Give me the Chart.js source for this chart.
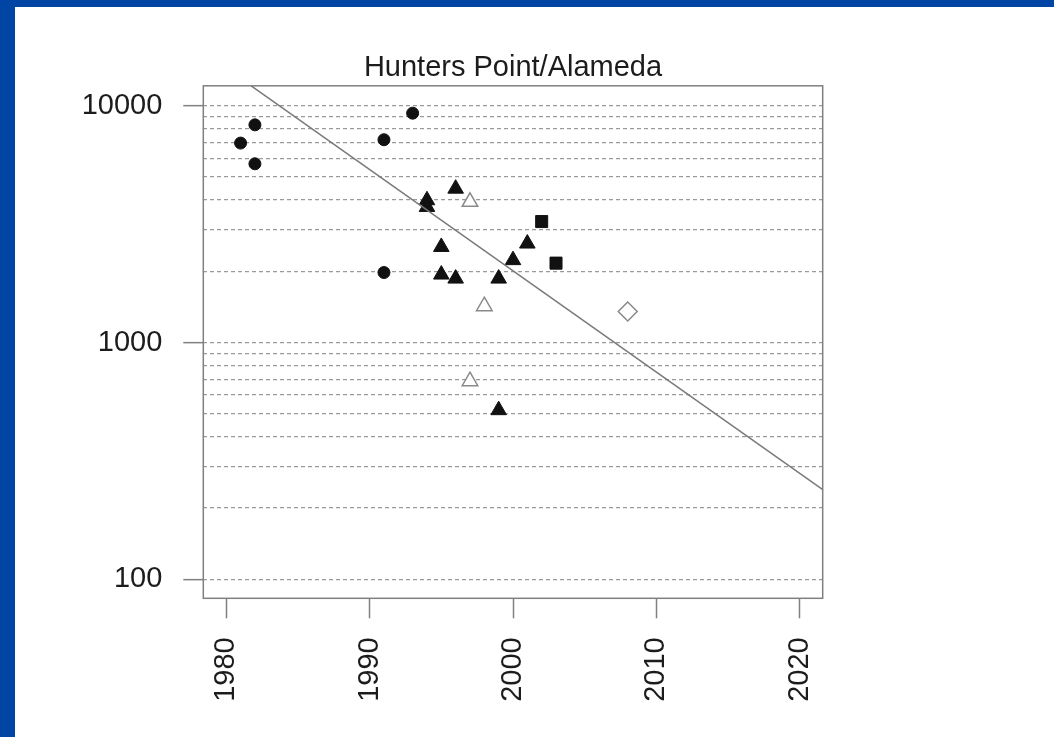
<!DOCTYPE html>
<html>
<head>
<meta charset="utf-8">
<title>Hunters Point/Alameda</title>
<script src="https://cdn.jsdelivr.net/npm/chart.js@4.4.1/dist/chart.umd.min.js"></script>
<style>
  body { margin: 0; background: #fff; }
  #frame {
    position: absolute; left: 0; top: 0;
    width: 1054px; height: 737px;
    box-sizing: border-box;
    border-top: 7px solid #0044a4;
    border-left: 15px solid #0044a4;
    background: #fff;
  }
  canvas { display: block; }
</style>
</head>
<body>
<div id="frame">
  <canvas id="chart" width="1039" height="730"></canvas>
</div>
<script>
  // data (year, value)
  const circleYears = [1981, 1982, 1982, 1991, 1991, 1993];
  const circleValues = [6960, 8310, 5690, 7190, 1976, 9310];

  const triangleYears = [1994, 1994, 1995, 1995, 1996, 1996, 1999, 1999, 2000, 2001];
  const triangleValues = [3990, 3740, 2534, 1937, 4467, 1863, 1863, 518, 2229, 2619];

  const openTriangleYears = [1997, 1997, 1998];
  const openTriangleValues = [3930, 687, 1425];

  const squareYears = [2002, 2003];
  const squareValues = [3244, 2165];

  const diamondYears = [2008];
  const diamondValues = [1352];

  // fitted trend line, end points
  const fitYears = [1981.74, 2021.58];
  const fitValues = [12150, 240];

  // axes
  const xTicks = [1980, 1990, 2000, 2010, 2020];
  const yLabelTicks = [100, 1000, 10000];
  const yGridTicks = [100, 200, 300, 400, 500, 600, 700, 800, 900,
    1000, 2000, 3000, 4000, 5000, 6000, 7000, 8000, 9000, 10000];

  function toPoints(xs, ys) {
    return xs.map((x, i) => ({ x: x, y: ys[i] }));
  }

  Chart.defaults.font.family = '"Liberation Sans", Arial, Helvetica, sans-serif';
  Chart.defaults.color = '#1c1c1c';

  // draw the full box round the plot area
  const boxPlugin = {
    id: 'box',
    beforeDatasetsDraw(chart) {
      const a = chart.chartArea;
      const c = chart.ctx;
      c.save();
      c.strokeStyle = '#808080';
      c.lineWidth = 1.5;
      c.strokeRect(a.left, a.top, a.right - a.left, a.bottom - a.top);
      c.restore();
    }
  };

  const ctx = document.getElementById('chart').getContext('2d');

  new Chart(ctx, {
    type: 'scatter',
    data: {
      datasets: [
        {
          label: 'trend',
          type: 'line',
          data: toPoints(fitYears, fitValues),
          borderColor: '#7a7a7a',
          borderWidth: 1.5,
          pointRadius: 0,
          fill: false
        },
        {
          label: 'circle',
          data: toPoints(circleYears, circleValues),
          pointStyle: 'circle',
          pointRadius: 6,
          backgroundColor: '#111',
          borderColor: '#111',
          borderWidth: 1
        },
        {
          label: 'triangle',
          data: toPoints(triangleYears, triangleValues),
          pointStyle: 'triangle',
          pointRadius: 9,
          backgroundColor: '#111',
          borderColor: '#111',
          borderWidth: 1
        },
        {
          label: 'open triangle',
          data: toPoints(openTriangleYears, openTriangleValues),
          pointStyle: 'triangle',
          pointRadius: 9,
          backgroundColor: '#fff',
          borderColor: '#8a8a8a',
          borderWidth: 1.5
        },
        {
          label: 'square',
          data: toPoints(squareYears, squareValues),
          pointStyle: 'rect',
          pointRadius: 8.5,
          backgroundColor: '#111',
          borderColor: '#111',
          borderWidth: 1
        },
        {
          label: 'diamond',
          data: toPoints(diamondYears, diamondValues),
          pointStyle: 'rectRot',
          pointRadius: 9.5,
          backgroundColor: '#fff',
          borderColor: '#8a8a8a',
          borderWidth: 1.5
        }
      ]
    },
    options: {
      responsive: false,
      animation: false,
      layout: { padding: { left: 0, right: 231.3, top: 0, bottom: 0 } },
      plugins: {
        legend: { display: false },
        tooltip: { enabled: false },
        title: {
          display: true,
          text: 'Hunters Point/Alameda',
          fullSize: false,
          font: { size: 29, weight: 'normal' },
          color: '#1c1c1c',
          padding: { top: 44, bottom: 0 }
        }
      },
      scales: {
        x: {
          type: 'linear',
          min: 1978.4,
          max: 2021.6,
          afterBuildTicks: (scale) => {
            scale.ticks = xTicks.map(v => ({ value: v }));
          },
          afterFit: (scale) => { scale.height = 138.7; },
          ticks: {
            autoSkip: false,
            minRotation: 90,
            maxRotation: 90,
            padding: 19,
            font: { size: 29 },
            callback: (value) => String(value)
          },
          grid: {
            drawOnChartArea: false,
            tickLength: 20,
            tickColor: '#808080',
            tickWidth: 1.5
          },
          border: { display: false }
        },
        y: {
          type: 'logarithmic',
          min: 83.1,
          max: 12150,
          afterBuildTicks: (scale) => {
            scale.ticks = yGridTicks.map(v => ({ value: v }));
          },
          afterFit: (scale) => { scale.width = 188.3; },
          ticks: {
            autoSkip: false,
            padding: 21,
            font: { size: 29 },
            callback: (value) => yLabelTicks.includes(value) ? String(value) : ''
          },
          grid: {
            color: '#9a9a9a',
            lineWidth: 1.3,
            tickLength: 20,
            tickWidth: 1.5,
            tickBorderDash: [],
            tickColor: (c) => (c.tick && yLabelTicks.includes(c.tick.value)) ? '#808080' : 'rgba(0,0,0,0)'
          },
          border: { display: false, dash: [4, 3] }
        }
      }
    },
    plugins: [boxPlugin]
  });
</script>
</body>
</html>
